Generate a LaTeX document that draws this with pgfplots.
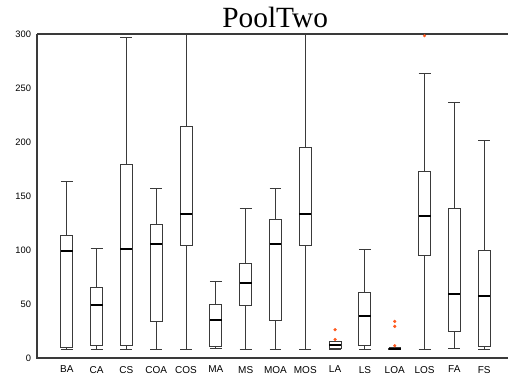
\documentclass[border=0pt]{standalone}
\usepackage{fontspec}
\setmainfont{Liberation Serif}
\setsansfont{Liberation Sans}
\usepackage{pgfplots}
\pgfplotsset{compat=1.18}
\usepgfplotslibrary{statistics}
\definecolor{boxgray}{HTML}{3A3A3A}
\definecolor{outl}{HTML}{FF5A1F}
\begin{document}
\begin{tikzpicture}
\begin{axis}[
  name=ax,
  scale only axis,
  width=353.25pt, height=243pt,
  xmin=0, xmax=15.8, ymin=0, ymax=300,
  axis line style={draw=none},
  xtick={1,...,15},
  xticklabels={BA,CA,CS,COA,COS,MA,MS,MOA,MOS,LA,LS,LOA,LOS,FA,FS},
  ytick={0,50,100,150,200,250,300},
  major tick length=0pt,
  tick style={draw=none},
  /pgf/number format/assume math mode=true,
  xticklabel style={font=\sffamily\fontsize{7.5}{9}\selectfont, yshift=-2.5pt},
  yticklabel style={font=\sffamily\fontsize{7}{8}\selectfont, xshift=-1pt},
  clip=false,
  boxplot/draw direction=y,
  boxplot/box extend=0.4,
  boxplot/whisker extend=0.4,
  boxplot/every median/.style={draw=black, line width=1.4pt},
  bx/.style={solid, draw=boxgray, line width=0.75pt, mark=*, mark size=1.1pt, mark options={draw=outl, fill=outl, solid, line width=0.2pt}},
]
\addplot[bx, boxplot prepared={draw position=1, lower whisker=7.7, lower quartile=9.5, median=99.4, upper quartile=113.6, upper whisker=163}] coordinates {};
\addplot[bx, boxplot prepared={draw position=2, lower whisker=7.7, lower quartile=12, median=49.4, upper quartile=65.5, upper whisker=101.5}] coordinates {};
\addplot[bx, boxplot prepared={draw position=3, lower whisker=7.7, lower quartile=12, median=100.6, upper quartile=179.6, upper whisker=296.9}] coordinates {};
\addplot[bx, boxplot prepared={draw position=4, lower whisker=7.7, lower quartile=33.6, median=105.8, upper quartile=123.9, upper whisker=156.8}] coordinates {};
\addplot[bx, boxplot prepared={draw position=5, lower whisker=7.7, lower quartile=104.4, median=133.6, upper quartile=214.5, upper whisker=300}] coordinates {};
\addplot[bx, boxplot prepared={draw position=6, lower whisker=8.9, lower quartile=10.7, median=34.8, upper quartile=49.4, upper whisker=70.6}] coordinates {};
\addplot[bx, boxplot prepared={draw position=7, lower whisker=7.7, lower quartile=48.4, median=69.2, upper quartile=87.3, upper whisker=138.2}] coordinates {};
\addplot[bx, boxplot prepared={draw position=8, lower whisker=7.7, lower quartile=34.5, median=105.8, upper quartile=128.4, upper whisker=157}] coordinates {};
\addplot[bx, boxplot prepared={draw position=9, lower whisker=7.7, lower quartile=104.4, median=133.6, upper quartile=194.7, upper whisker=300}] coordinates {};
\addplot[bx, boxplot prepared={draw position=10, lower whisker=7.7, lower quartile=9, median=12, upper quartile=15, upper whisker=15.5}] coordinates {(0,17.2) (0,26.2)};
\addplot[bx, boxplot prepared={draw position=11, lower whisker=7.7, lower quartile=12, median=38.6, upper quartile=60.5, upper whisker=100.6}] coordinates {};
\addplot[bx, boxplot prepared={draw position=12, lower whisker=7.7, lower quartile=8, median=8.5, upper quartile=9, upper whisker=9.5}] coordinates {(0,11.4) (0,29.3) (0,33.9)};
\addplot[bx, boxplot prepared={draw position=13, lower whisker=7.7, lower quartile=95, median=131.8, upper quartile=172.5, upper whisker=263.8}] coordinates {(0,298.4)};
\addplot[bx, boxplot prepared={draw position=14, lower whisker=8.6, lower quartile=24.7, median=59.5, upper quartile=138.3, upper whisker=236.4}] coordinates {};
\addplot[bx, boxplot prepared={draw position=15, lower whisker=7.7, lower quartile=11, median=57.5, upper quartile=99.4, upper whisker=201.2}] coordinates {};
\draw[draw=boxgray, line width=1.3pt] (rel axis cs:0,1) -- (rel axis cs:1,1);
\draw[draw=boxgray, line width=1pt] (rel axis cs:1,0) -- (rel axis cs:0,0) -- (rel axis cs:0,1);
\node[font=\fontsize{22}{26}\selectfont, anchor=base, inner sep=0pt] at ([yshift=4.5pt, xshift=2pt]rel axis cs:0.5,1) {PoolTwo};
\end{axis}
\pgfresetboundingbox
\path ([xshift=-27.75pt,yshift=-15.75pt]ax.south west) rectangle ([yshift=25.5pt]ax.north east);
\end{tikzpicture}
\end{document}
